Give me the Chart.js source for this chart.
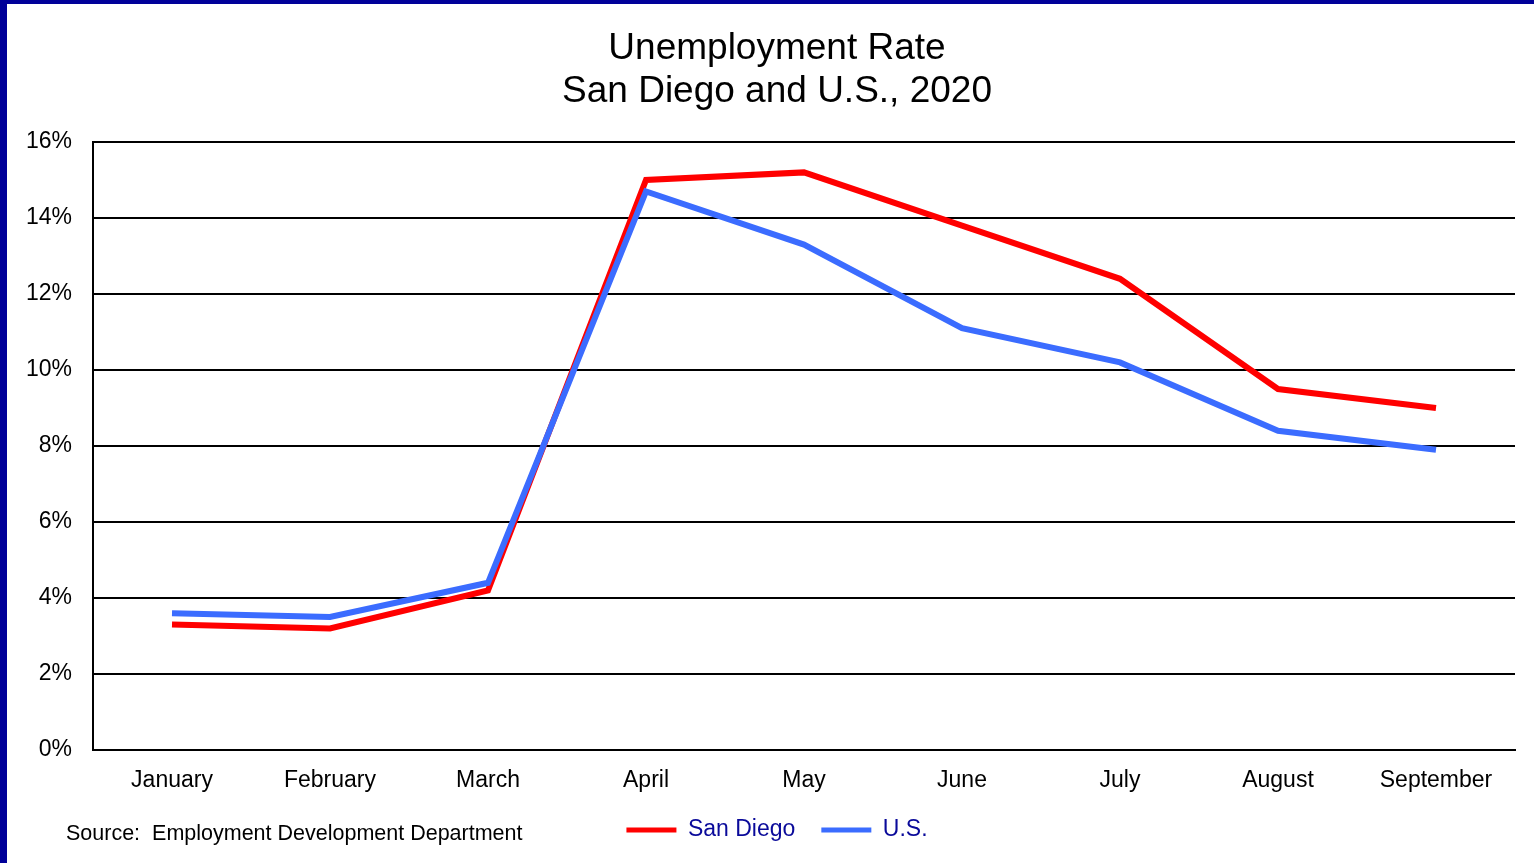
<!DOCTYPE html>
<html>
<head>
<meta charset="utf-8">
<script src="https://cdn.jsdelivr.net/npm/chart.js@4.4.1/dist/chart.umd.min.js"></script>
<style>
  html, body { margin: 0; padding: 0; background: #ffffff; overflow: hidden; }
  #frame {
    position: absolute; left: 0; top: 0; width: 1527px; height: 859px;
    border-left: 7px solid #000099; border-top: 4px solid #000099;
    background: #ffffff;
  }
  #wrap { position: relative; width: 1527px; height: 859px; }
</style>
</head>
<body>
<div id="frame"><div id="wrap"><canvas id="c"></canvas></div></div>
<script>
const months = ['January', 'February', 'March', 'April', 'May', 'June', 'July', 'August', 'September'];
const sanDiego = [3.3, 3.2, 4.2, 15.0, 15.2, 13.8, 12.4, 9.5, 9.0];
const us = [3.6, 3.5, 4.4, 14.7, 13.3, 11.1, 10.2, 8.4, 7.9];
const titleLines = ['Unemployment Rate', 'San Diego and U.S., 2020'];
const sourceText = 'Source:  Employment Development Department';

const FONT = 'Arial, "Liberation Sans", sans-serif';

const sourcePlugin = {
  id: 'sourceNote',
  afterDraw(chart) {
    const ctx = chart.ctx;
    ctx.save();
    ctx.font = '21.5px ' + FONT;
    ctx.fillStyle = '#000000';
    ctx.textAlign = 'left';
    ctx.textBaseline = 'middle';
    ctx.fillText(sourceText, 59, 830);
    ctx.restore();
  }
};

new Chart(document.getElementById('c'), {
  type: 'line',
  data: {
    labels: months,
    datasets: [
      { label: 'San Diego', data: sanDiego, borderColor: '#ff0000', backgroundColor: '#ff0000',
        borderWidth: 6, pointRadius: 0, tension: 0, order: 1 },
      { label: 'U.S.', data: us, borderColor: '#3b6cff', backgroundColor: '#3b6cff',
        borderWidth: 6, pointRadius: 0, tension: 0, order: 0 }
    ]
  },
  options: {
    responsive: true,
    maintainAspectRatio: false,
    animation: false,
    layout: { padding: { left: 20, right: 7, top: 0, bottom: 20.5 } },
    plugins: {
      title: {
        display: true,
        text: titleLines,
        color: '#000000',
        font: { family: FONT, size: 37, weight: 'normal', lineHeight: 1.162 },
        padding: { top: 23.5, bottom: 28.5 }
      },
      legend: {
        display: true,
        position: 'bottom',
        maxHeight: 50,
        labels: {
          color: '#0a0a9a',
          font: { family: FONT, size: 23 },
          boxWidth: 50,
          boxHeight: 5,
          padding: 26,
          sort: (a, b) => a.datasetIndex - b.datasetIndex,
          generateLabels(chart) {
            return chart.data.datasets.map((ds, i) => ({
              text: ds.label,
              fillStyle: ds.borderColor,
              strokeStyle: ds.borderColor,
              lineWidth: 0,
              fontColor: '#0a0a9a',
              hidden: false,
              datasetIndex: i
            }));
          }
        }
      },
      tooltip: { enabled: false }
    },
    scales: {
      x: {
        offset: true,
        grid: { display: false, drawTicks: false },
        border: { display: true, color: '#000000', width: 2 },
        ticks: { color: '#000000', font: { family: FONT, size: 23 }, padding: 17, maxRotation: 0, autoSkip: false },
        afterFit(scale) { scale.height = 42.5; }
      },
      y: {
        min: 0, max: 16,
        grid: { color: '#000000', lineWidth: 2, drawTicks: false },
        border: { display: true, color: '#000000', width: 2 },
        ticks: { stepSize: 2, color: '#000000', font: { family: FONT, size: 23 }, padding: 21,
                 callback: v => v + '%' },
        afterFit(scale) { scale.width = 66; }
      },
      yRight: {
        position: 'right',
        min: 0, max: 16,
        grid: { display: false, drawOnChartArea: false, drawTicks: false },
        border: { display: false },
        ticks: { display: false },
        afterFit(scale) { scale.width = 12; }
      }
    }
  },
  plugins: [sourcePlugin]
});
</script>
</body>
</html>
